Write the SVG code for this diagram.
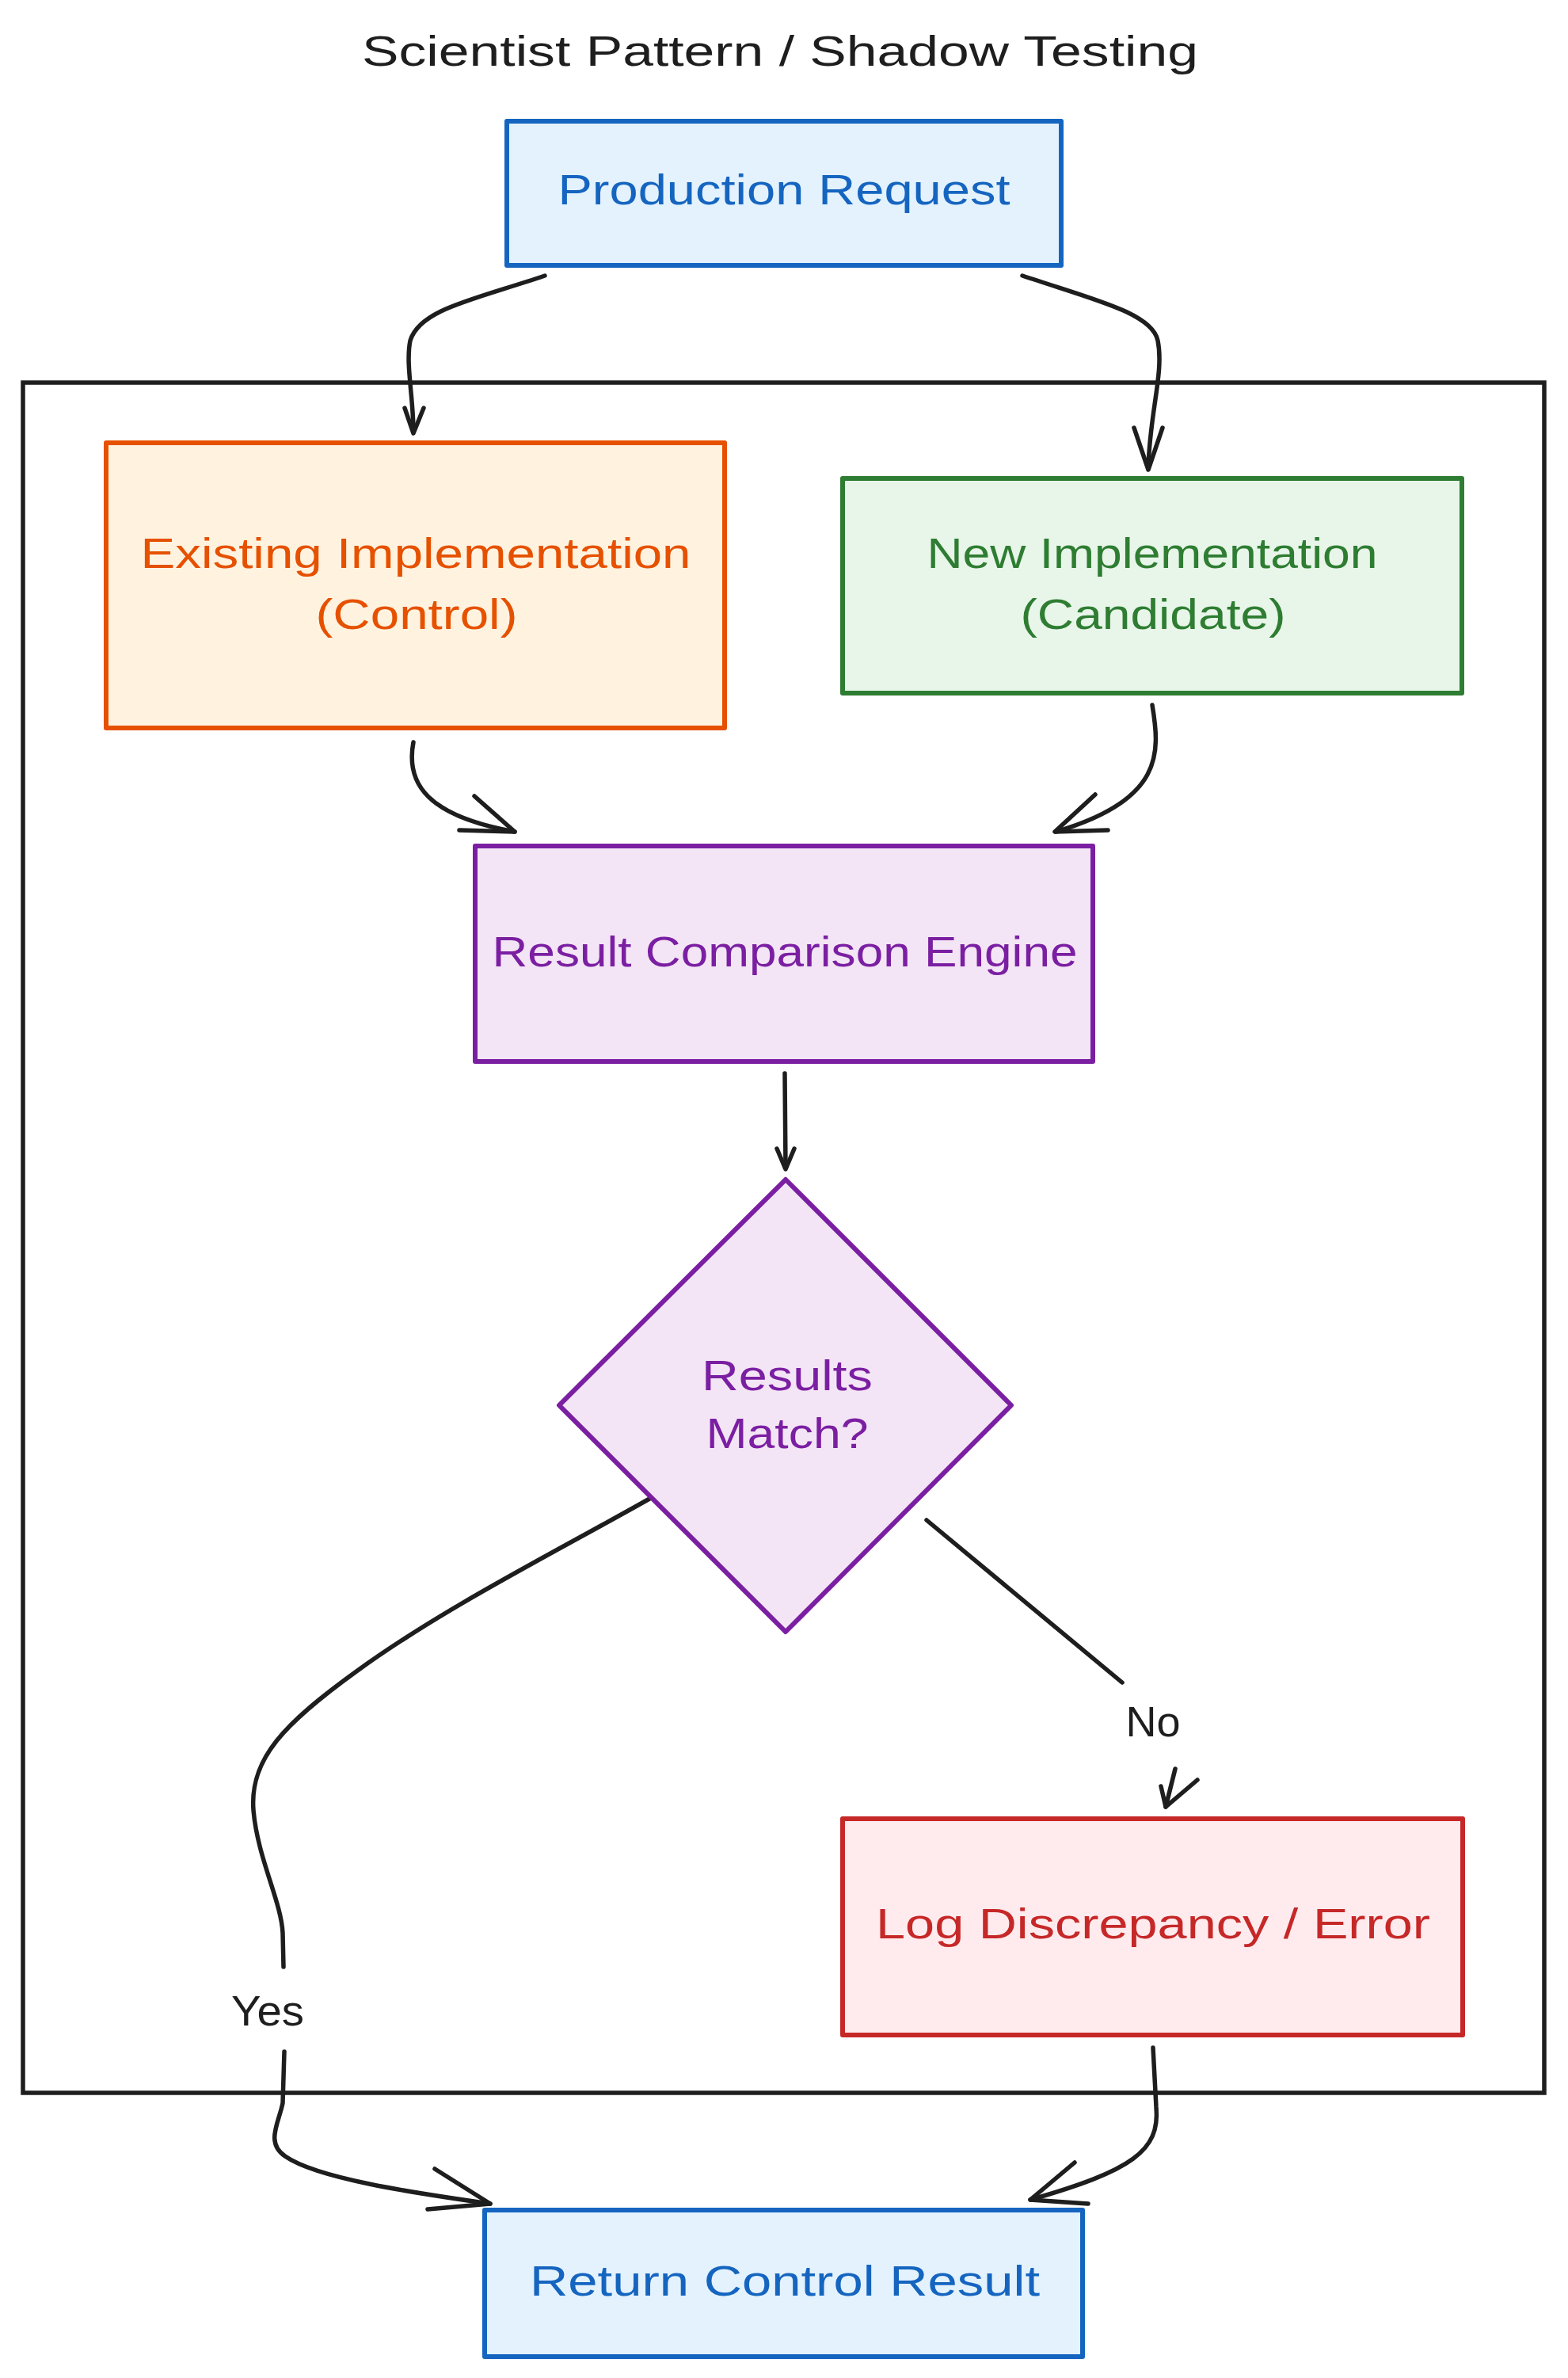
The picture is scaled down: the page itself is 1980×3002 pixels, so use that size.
<svg xmlns="http://www.w3.org/2000/svg" width="1980" height="3002" viewBox="0 0 1980 3002">
<style>
text{font-family:"Liberation Sans","Noto Sans",sans-serif;font-size:54px;text-anchor:middle}
.box{stroke-width:6;stroke-linejoin:round}
.blue{fill:#e3f2fd;stroke:#1565c0}
.orange{fill:#fff3e0;stroke:#e65100}
.green{fill:#e8f5e9;stroke:#2e7d32}
.purple{fill:#f3e5f5;stroke:#7b1fa2}
.red{fill:#ffebee;stroke:#c62828}
.tblue{fill:#1565c0}.torange{fill:#e65100}.tgreen{fill:#2e7d32}.tpurple{fill:#7b1fa2}.tred{fill:#c62828}.tdark{fill:#1e1e1e}
.edge{fill:none;stroke:#1e1e1e;stroke-width:5.5;stroke-linecap:round;stroke-linejoin:round}
</style>
<rect width="1980" height="3002" fill="#ffffff"/>
<text class="tdark" x="985" y="83" font-size="56" textLength="1056" lengthAdjust="spacingAndGlyphs">Scientist Pattern / Shadow Testing</text>
<g id="container">
<rect x="29" y="483" width="1921" height="2159" fill="none" stroke="#1e1e1e" stroke-width="5.5"/>
</g>
<g id="connectors">
<path class="edge" d="M 688 348 C 600 378 530 390 518 430 C 512 460 522 500 522 545"/>
<path class="edge" d="M 511 515 L 522 547 L 535 515"/>
<path class="edge" d="M 1291 348 C 1380 378 1455 395 1462 430 C 1470 470 1452 520 1450 590"/>
<path class="edge" d="M 1432 540 L 1450 593 L 1468 540"/>
<path class="edge" d="M 522 937 C 512 990 540 1030 650 1050"/>
<path class="edge" d="M 599 1005 L 650 1050 L 580 1048"/>
<path class="edge" d="M 1455 890 C 1465 950 1470 1010 1333 1050"/>
<path class="edge" d="M 1383 1003 L 1332 1050 L 1399 1048"/>
<path class="edge" d="M 991 1355 L 992 1474"/>
<path class="edge" d="M 981 1450 L 992 1476 L 1003 1450"/>
<path class="edge" d="M 822 1891 C 700 1960 560 2030 450 2110 C 360 2175 315 2220 320 2285 C 325 2345 355 2400 357 2440 L 358 2483"/>
<path class="edge" d="M 359 2590 L 357 2655 C 352 2680 335 2705 360 2722 C 400 2750 520 2768 619 2782"/>
<path class="edge" d="M 549 2738 L 619 2782 L 540 2789"/>
<path class="edge" d="M 1170 1919 L 1417 2124"/>
<path class="edge" d="M 1484 2233 L 1472 2281"/>
<path class="edge" d="M 1512 2247 L 1472 2281 L 1466 2255"/>
<path class="edge" d="M 1456 2585 L 1460 2660 C 1465 2715 1430 2740 1301 2777"/>
<path class="edge" d="M 1357 2730 L 1301 2777 L 1374 2782"/>
<text class="tdark" x="338" y="2557" textLength="92" lengthAdjust="spacingAndGlyphs">Yes</text>
<text class="tdark" x="1456" y="2192" textLength="69" lengthAdjust="spacingAndGlyphs">No</text>
</g>
<g id="production-request">
<rect class="box blue" x="640" y="153" width="700" height="182"/>
<text class="tblue" x="990" y="258" textLength="571" lengthAdjust="spacingAndGlyphs">Production Request</text>
</g>
<g id="existing-implementation">
<rect class="box orange" x="134" y="559" width="781" height="360"/>
<text class="torange" x="525" y="717" textLength="695" lengthAdjust="spacingAndGlyphs">Existing Implementation</text>
<text class="torange" x="526" y="794" textLength="255" lengthAdjust="spacingAndGlyphs">(Control)</text>
</g>
<g id="new-implementation">
<rect class="box green" x="1064" y="604" width="782" height="271"/>
<text class="tgreen" x="1455" y="717" textLength="569" lengthAdjust="spacingAndGlyphs">New Implementation</text>
<text class="tgreen" x="1456" y="794" textLength="335" lengthAdjust="spacingAndGlyphs">(Candidate)</text>
</g>
<g id="result-comparison-engine">
<rect class="box purple" x="600" y="1068" width="780" height="272"/>
<text class="tpurple" x="991" y="1220" textLength="739" lengthAdjust="spacingAndGlyphs">Result Comparison Engine</text>
</g>
<g id="results-match">
<polygon class="box purple" points="992,1489 1277,1774 992,2060 706,1774"/>
<text class="tpurple" x="994" y="1755" textLength="216" lengthAdjust="spacingAndGlyphs">Results</text>
<text class="tpurple" x="994" y="1828" textLength="205" lengthAdjust="spacingAndGlyphs">Match?</text>
</g>
<g id="log-discrepancy">
<rect class="box red" x="1064" y="2296" width="783" height="273"/>
<text class="tred" x="1456" y="2447" textLength="700" lengthAdjust="spacingAndGlyphs">Log Discrepancy / Error</text>
</g>
<g id="return-control-result">
<rect class="box blue" x="612" y="2790" width="755" height="185"/>
<text class="tblue" x="991" y="2898" textLength="644" lengthAdjust="spacingAndGlyphs">Return Control Result</text>
</g>
</svg>
